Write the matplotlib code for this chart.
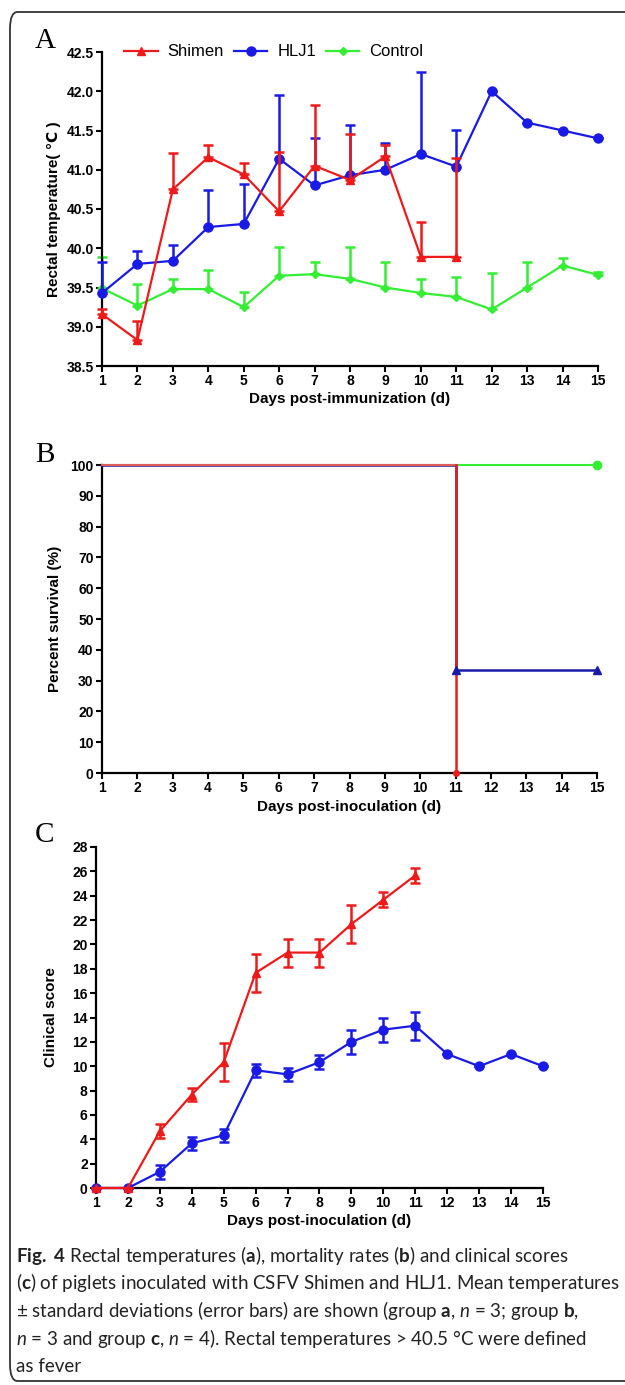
import numpy as np, matplotlib
matplotlib.use("Agg"); import matplotlib.pyplot as plt
from matplotlib.patches import FancyBboxPatch
from matplotlib.lines import Line2D

# ---- data ----
days = np.arange(1, 16)

# A: rectal temperature, mean and upper SD bar end
shimen_t   = [39.16, 38.83, 40.75, 41.16, 40.94, 40.47, 41.05, 40.87, 41.17, 39.89, 39.89]
shimen_top = [39.22, 39.07, 41.21, 41.31, 41.08, 41.22, 41.82, 41.45, 41.32, 40.34, 41.15]
hlj1_t     = [39.43, 39.80, 39.84, 40.27, 40.31, 41.14, 40.80, 40.93, 41.00, 41.20, 41.04, 42.00, 41.60, 41.50, 41.40]
hlj1_top   = [39.82, 39.97, 40.04, 40.74, 40.82, 41.95, 41.40, 41.57, 41.34, 42.24, 41.51, 42.00, 41.60, 41.50, 41.40]
ctrl_t     = [39.49, 39.27, 39.48, 39.48, 39.25, 39.65, 39.67, 39.61, 39.50, 39.43, 39.38, 39.22, 39.50, 39.78, 39.66]
ctrl_top   = [39.89, 39.54, 39.61, 39.72, 39.44, 40.01, 39.83, 40.01, 39.82, 39.61, 39.64, 39.69, 39.82, 39.87, 39.70]

# B: survival (%)
surv_days   = [1, 11, 15]
shimen_surv = [100, 0]          # day 1 -> day 11
hlj1_surv   = [100, 33.3, 33.3]
ctrl_surv   = [100, 100, 100]

# C: clinical score, mean and SD
shimen_cs  = [0, 0, 4.67, 7.67, 10.33, 17.67, 19.33, 19.33, 21.67, 23.67, 25.67]
shimen_sd  = [0, 0, 0.55, 0.55, 1.55, 1.55, 1.15, 1.15, 1.55, 0.6, 0.6]
hlj1_cs    = [0, 0, 1.33, 3.67, 4.33, 9.67, 9.33, 10.33, 12.0, 13.0, 13.33, 11, 10, 11, 10]
hlj1_sd    = [0, 0, 0.55, 0.55, 0.55, 0.55, 0.55, 0.55, 1.0, 1.0, 1.15, 0, 0, 0, 0]

RED, BLUE, GREEN, NAVY = "#ee1a1a", "#1a1ae6", "#33ee33", "#1a1aa8"
plt.rcParams["font.family"] = ["Liberation Sans", "DejaVu Sans"]

W, H = 625, 1385
fig = plt.figure(figsize=(W/100, H/100), dpi=100)
def px_axes(l, t, r, b):
    return fig.add_axes([l/W, 1-b/H, (r-l)/W, (b-t)/H])

def style(ax, ylab, ybase):
    for s in ("top", "right"): ax.spines[s].set_visible(False)
    for s in ("left", "bottom"): ax.spines[s].set_linewidth(1.6)
    ax.tick_params(width=1.5, length=4, labelsize=10, pad=2)
    ax.set_xticks(days); ax.set_xlim(1, 15)
    for lab in ax.get_xticklabels()+ax.get_yticklabels(): lab.set_fontweight("bold")
    ax.set_ylabel(ylab, fontsize=11, fontweight="bold")
    # place the y label baseline at a fixed pixel column
    ax.yaxis.set_label_coords(ybase/W, 0.5, transform=fig.transFigure)
    ax.yaxis.label.set_transform(matplotlib.transforms.blended_transform_factory(fig.transFigure, ax.transAxes))

eb = dict(lw=1.6, elinewidth=1.8, capsize=3.5, capthick=1.8, clip_on=False)

# ---- A ----
axA = px_axes(102, 52, 598, 366)
d11 = days[:11]
axA.errorbar(days, ctrl_t, yerr=[np.zeros(15), np.array(ctrl_top)-ctrl_t], color=GREEN, marker="D",
             ms=4, zorder=2, **eb)
axA.errorbar(days, hlj1_t, yerr=[np.zeros(15), np.array(hlj1_top)-hlj1_t], color=BLUE, marker="o",
             ms=6.5, zorder=3, **eb)
axA.errorbar(d11, shimen_t, yerr=[np.zeros(11), np.array(shimen_top)-shimen_t], color=RED, marker="^",
             ms=6, zorder=4, **eb)
axA.set_ylim(38.5, 42.5); axA.set_yticks(np.arange(38.5, 42.51, 0.5))
axA.set_yticklabels([f"{v:.1f}" for v in np.arange(38.5, 42.51, 0.5)])
style(axA, "Rectal temperature( \u2103 )", 61)
axA.set_xlabel("Days post-immunization (d)", fontsize=11, fontweight="bold", labelpad=3)
handles = [Line2D([], [], color=RED, marker="^", ms=6, lw=1.6),
           Line2D([], [], color=BLUE, marker="o", ms=6.5, lw=1.6),
           Line2D([], [], color=GREEN, marker="D", ms=4, lw=1.6)]
axA.legend(handles, ["Shimen", "HLJ1", "Control"], loc="center left", bbox_to_anchor=(0.045, 1.0), ncol=3,
           frameon=False, fontsize=12, handlelength=2.0, columnspacing=0.6, handletextpad=0.6,
           borderaxespad=0, borderpad=0)

# ---- B ----
axB = px_axes(102, 465, 597, 773)
axB.step(surv_days, ctrl_surv, where="post", color=GREEN, lw=1.5, zorder=2, clip_on=False)
axB.plot([15], [100], "o", color=GREEN, ms=6, zorder=5, clip_on=False)
axB.step(surv_days, hlj1_surv, where="post", color=NAVY, lw=1.8, zorder=3, clip_on=False)
axB.plot(surv_days[1:], hlj1_surv[1:], "^", color=NAVY, ms=6, zorder=5, clip_on=False)
axB.plot(surv_days[:2], [shimen_surv[0]]*2, color="#e05a5a", lw=1.5, zorder=4, clip_on=False)
axB.plot([surv_days[1]]*2, shimen_surv, color=RED, lw=1.8, zorder=4, clip_on=False)
axB.plot([surv_days[1]], [shimen_surv[1]], "o", color=RED, ms=4, zorder=5, clip_on=False)
axB.set_ylim(0, 100); axB.set_yticks(range(0, 101, 10))
style(axB, "Percent survival (%)", 62)
axB.set_xlabel("Days post-inoculation (d)", fontsize=11, fontweight="bold", labelpad=3)

# ---- C ----
axC = px_axes(96, 847, 543, 1188)
axC.errorbar(days, hlj1_cs, yerr=hlj1_sd, color=BLUE, marker="o", ms=6.5, zorder=3, **eb)
axC.errorbar(d11, shimen_cs, yerr=shimen_sd, color=RED, marker="^", ms=6, zorder=4, **eb)
axC.set_ylim(0, 28); axC.set_yticks(range(0, 29, 2))
style(axC, "Clinical score", 58)
axC.set_xlabel("Days post-inoculation (d)", fontsize=11, fontweight="bold", labelpad=3)

# panel letters
for letter, y in (("A", 48), ("B", 462), ("C", 842)):
    fig.text(35/W, 1-y/H, letter, fontsize=21, family="Liberation Serif", va="baseline")

# caption
plt.rcParams["mathtext.fontset"] = "custom"
plt.rcParams["mathtext.rm"] = "Lato"
plt.rcParams["mathtext.bf"] = "Lato:bold"
plt.rcParams["mathtext.it"] = "Lato:italic"
cap = [r"$\mathbf{Fig.\ 4}$ Rectal temperatures ($\mathbf{a}$), mortality rates ($\mathbf{b}$) and clinical scores",
       r"($\mathbf{c}$) of piglets inoculated with CSFV Shimen and HLJ1. Mean temperatures",
       r"± standard deviations (error bars) are shown (group $\mathbf{a}$, $\mathit{n}$ = 3; group $\mathbf{b}$,",
       r"$\mathit{n}$ = 3 and group $\mathbf{c}$, $\mathit{n}$ = 4). Rectal temperatures > 40.5 °C were defined",
       "as fever"]
for i, line in enumerate(cap):
    fig.text(16/W, 1-(1262+i*27.5)/H, line, fontsize=13.5, family="Lato", va="baseline", color="#222222")

# rounded frame around the whole figure
fig.patches.append(FancyBboxPatch((10/W, 1-1381/H), 640/W, 1369/H, boxstyle="round,pad=0,rounding_size=0.012",
                                  transform=fig.transFigure, fill=False, lw=1.3, ec="#333333"))

fig.savefig("out.png", dpi=100)
